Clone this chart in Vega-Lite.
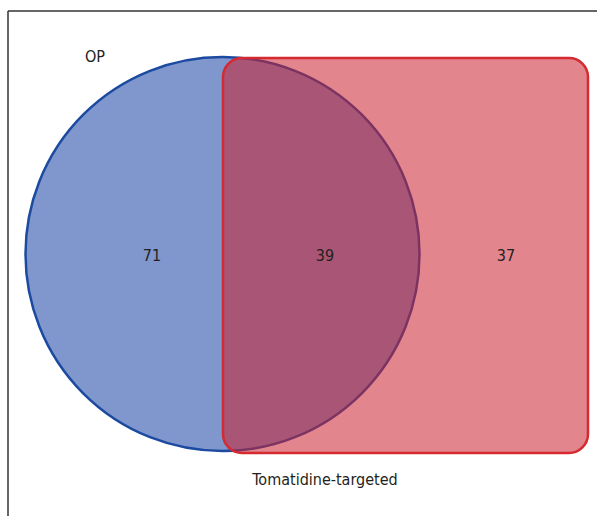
{
  "$schema": "https://vega.github.io/schema/vega-lite/v6.json",
  "width": 597,
  "height": 516,
  "autosize": {"type": "none"},
  "padding": 0,
  "background": "white",
  "config": {"view": {"stroke": null}},
  "datasets": {
    "frame": [
      {"x": 8, "y": 11, "x2": 597, "y2": 11},
      {"x": 8, "y": 11, "x2": 8, "y2": 516}
    ],
    "circleSet": [
      {"set": "OP", "cx": 222.5, "cy": 254, "diameter": 394}
    ],
    "rectSet": [
      {"set": "Tomatidine-targeted", "x1": 223, "x2": 588, "y1": 58, "y2": 453}
    ],
    "labels": [
      {"text": "OP", "x": 95, "y": 62},
      {"text": "71", "x": 152, "y": 261},
      {"text": "39", "x": 325, "y": 261},
      {"text": "37", "x": 506, "y": 261},
      {"text": "Tomatidine-targeted", "x": 325, "y": 485}
    ]
  },
  "layer": [
    {
      "data": {"name": "frame"},
      "mark": {"type": "rule", "color": "#333333", "strokeWidth": 1.5},
      "encoding": {
        "x": {"field": "x", "type": "quantitative", "scale": {"domain": [0, 597], "nice": false, "zero": false}, "axis": null},
        "x2": {"field": "x2"},
        "y": {"field": "y", "type": "quantitative", "scale": {"domain": [0, 516], "nice": false, "zero": false, "reverse": true}, "axis": null},
        "y2": {"field": "y2"}
      }
    },
    {
      "data": {"name": "circleSet"},
      "mark": {"type": "point", "shape": "circle", "filled": true, "fill": "#7f97cd", "fillOpacity": 1, "opacity": 1, "stroke": "#1c4aa0", "strokeWidth": 2.5, "strokeOpacity": 1},
      "encoding": {
        "x": {"field": "cx", "type": "quantitative", "scale": {"domain": [0, 597], "nice": false, "zero": false}, "axis": null},
        "y": {"field": "cy", "type": "quantitative", "scale": {"domain": [0, 516], "nice": false, "zero": false, "reverse": true}, "axis": null},
        "size": {"field": "diameter", "type": "quantitative", "scale": {"type": "pow", "exponent": 2, "domain": [0, 400], "range": [0, 160000]}, "legend": null}
      }
    },
    {
      "data": {"name": "rectSet"},
      "mark": {"type": "rect", "cornerRadius": 19, "fill": "#cc2030", "fillOpacity": 0.55, "stroke": "#d42a30", "strokeWidth": 2.5},
      "encoding": {
        "x": {"field": "x1", "type": "quantitative", "scale": {"domain": [0, 597], "nice": false, "zero": false}, "axis": null},
        "x2": {"field": "x2"},
        "y": {"field": "y1", "type": "quantitative", "scale": {"domain": [0, 516], "nice": false, "zero": false, "reverse": true}, "axis": null},
        "y2": {"field": "y2"}
      }
    },
    {
      "data": {"name": "labels"},
      "mark": {"type": "text", "font": "DejaVu Sans Condensed, Open Sans, sans-serif", "fontSize": 16, "color": "#231f20", "align": "center", "baseline": "alphabetic"},
      "encoding": {
        "x": {"field": "x", "type": "quantitative", "scale": {"domain": [0, 597], "nice": false, "zero": false}, "axis": null},
        "y": {"field": "y", "type": "quantitative", "scale": {"domain": [0, 516], "nice": false, "zero": false, "reverse": true}, "axis": null},
        "text": {"field": "text"}
      }
    }
  ]
}
